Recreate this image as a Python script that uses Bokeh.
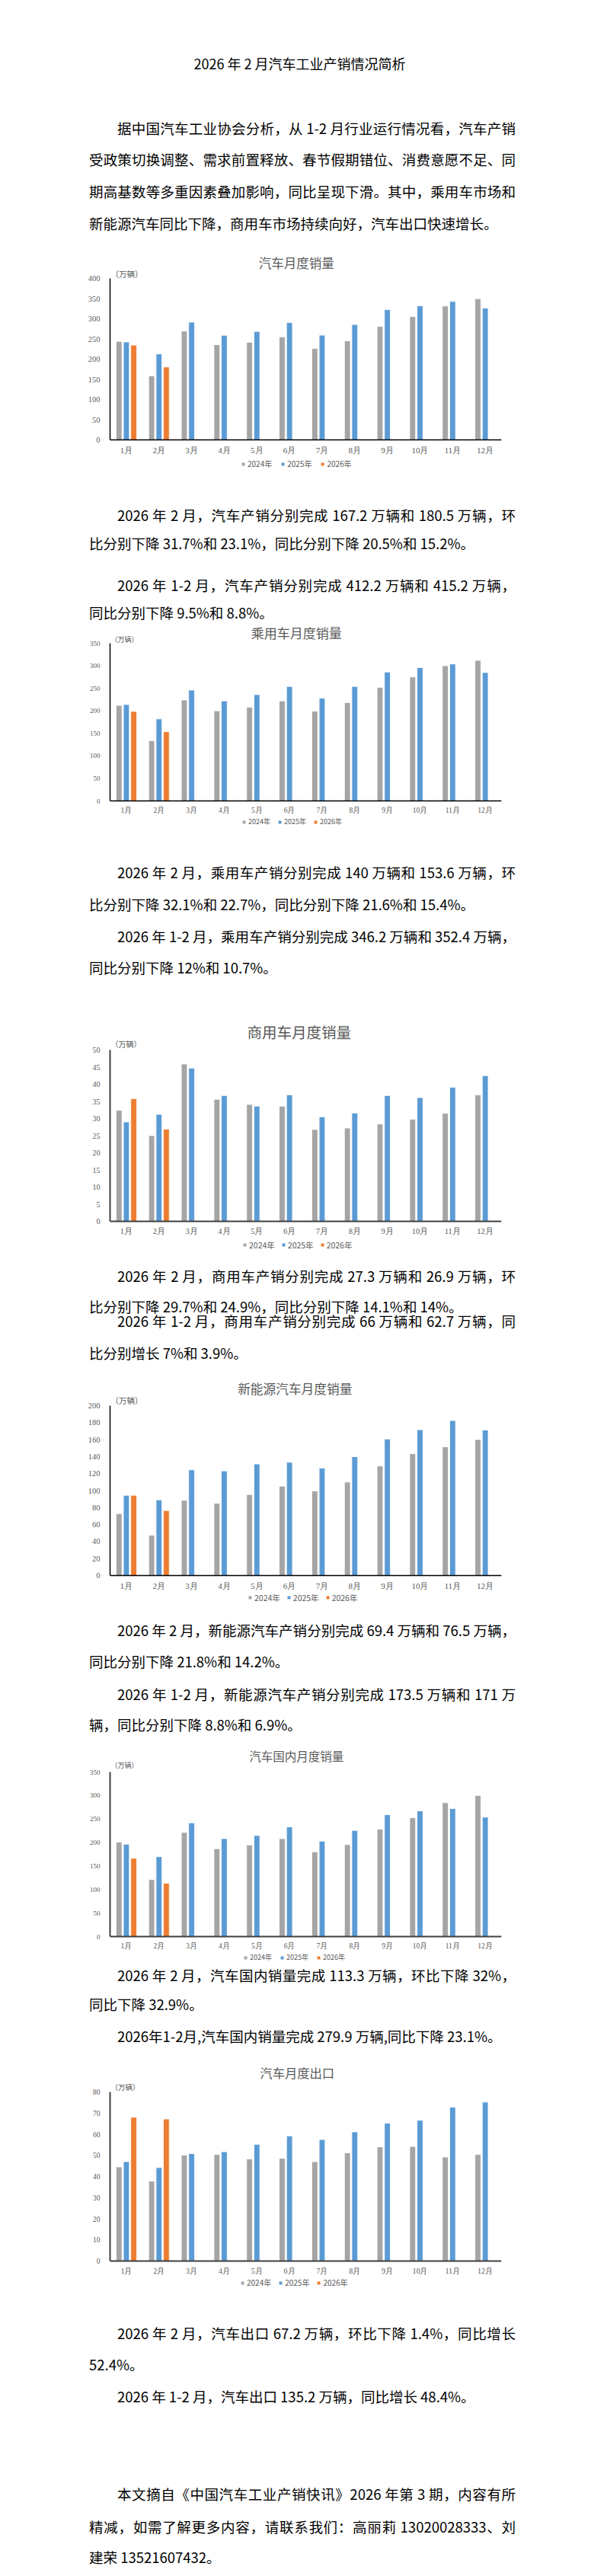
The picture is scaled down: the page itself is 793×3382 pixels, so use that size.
from bokeh.embed import file_html
from bokeh.layouts import column
from bokeh.models import (ColumnDataSource, Div, FixedTicker, Label, Legend, LegendItem,
                          LinearScale, Range1d)
from bokeh.plotting import figure
from bokeh.resources import INLINE

# ---------------- data (万辆) ----------------
months = ["1月", "2月", "3月", "4月", "5月", "6月", "7月", "8月", "9月", "10月", "11月", "12月"]
years = ["2024年", "2025年", "2026年"]

auto_2024 = [243.9, 158.4, 269.4, 235.9, 241.7, 255.2, 226.2, 245.3, 280.9, 305.3, 331.6, 349.5]
auto_2025 = [242.3, 212.9, 291.5, 259.0, 268.6, 290.4, 259.3, 285.7, 322.6, 332.2, 342.9, 326.5]
auto_2026 = [234.7, 180.5]

pv_2024 = [212.0, 133.5, 224.0, 200.0, 208.0, 222.0, 199.0, 218.0, 252.0, 275.0, 300.0, 312.0]
pv_2025 = [214.0, 182.0, 246.0, 222.0, 236.0, 254.0, 228.0, 254.0, 286.0, 296.0, 304.0, 285.0]
pv_2026 = [198.8, 153.6]

cv_2024 = [32.4, 25.0, 45.9, 35.6, 34.1, 33.6, 26.8, 27.2, 28.4, 29.8, 31.5, 36.9]
cv_2025 = [29.0, 31.2, 44.7, 36.7, 33.6, 36.9, 30.5, 31.6, 36.7, 36.1, 39.1, 42.5]
cv_2026 = [35.8, 26.9]

nev_2024 = [72.9, 47.4, 88.5, 84.9, 95.4, 105.2, 99.6, 110.0, 129.0, 143.5, 151.5, 160.1]
nev_2025 = [94.5, 89.1, 124.4, 123.2, 131.3, 133.3, 126.5, 139.9, 160.7, 171.7, 182.4, 171.4]
nev_2026 = [94.5, 76.5]

dom_2024 = [200.9, 121.0, 221.4, 186.8, 195.0, 208.4, 180.3, 195.5, 228.4, 252.7, 284.7, 300.0]
dom_2025 = [196.5, 170.0, 241.9, 208.4, 215.0, 233.3, 203.0, 225.7, 259.2, 267.3, 272.3, 254.0]
dom_2026 = [166.6, 113.3]

exp_2024 = [44.5, 37.8, 50.1, 50.4, 48.3, 48.6, 47.0, 51.2, 54.0, 54.2, 49.2, 50.4]
exp_2025 = [47.0, 44.2, 50.8, 51.7, 55.2, 59.2, 57.5, 61.1, 65.2, 66.6, 72.8, 75.2]
exp_2026 = [68.0, 67.2]

# ---------------- texts ----------------
page_title = "2026 年 2 月汽车工业产销情况简析"
intro_lines = [
    "据中国汽车工业协会分析，从 1-2 月行业运行情况看，汽车产销",
    "受政策切换调整、需求前置释放、春节假期错位、消费意愿不足、同",
    "期高基数等多重因素叠加影响，同比呈现下滑。其中，乘用车市场和",
    "新能源汽车同比下降，商用车市场持续向好，汽车出口快速增长。",
]
auto_lines = [
    "2026 年 2 月，汽车产销分别完成 167.2 万辆和 180.5 万辆，环",
    "比分别下降 31.7%和 23.1%，同比分别下降 20.5%和 15.2%。",
    "2026 年 1-2 月，汽车产销分别完成 412.2 万辆和 415.2 万辆，",
    "同比分别下降 9.5%和 8.8%。",
]
pv_lines = [
    "2026 年 2 月，乘用车产销分别完成 140 万辆和 153.6 万辆，环",
    "比分别下降 32.1%和 22.7%，同比分别下降 21.6%和 15.4%。",
    "2026 年 1-2 月，乘用车产销分别完成 346.2 万辆和 352.4 万辆，",
    "同比分别下降 12%和 10.7%。",
]
cv_lines = [
    "2026 年 2 月，商用车产销分别完成 27.3 万辆和 26.9 万辆，环",
    "比分别下降 29.7%和 24.9%，同比分别下降 14.1%和 14%。",
    "2026 年 1-2 月，商用车产销分别完成 66 万辆和 62.7 万辆，同",
    "比分别增长 7%和 3.9%。",
]
nev_lines = [
    "2026 年 2 月，新能源汽车产销分别完成 69.4 万辆和 76.5 万辆，",
    "同比分别下降 21.8%和 14.2%。",
    "2026 年 1-2 月，新能源汽车产销分别完成 173.5 万辆和 171 万",
    "辆，同比分别下降 8.8%和 6.9%。",
]
dom_lines = [
    "2026 年 2 月，汽车国内销量完成 113.3 万辆，环比下降 32%，",
    "同比下降 32.9%。",
    "2026年1-2月,汽车国内销量完成 279.9 万辆,同比下降 23.1%。",
]
exp_lines = [
    "2026 年 2 月，汽车出口 67.2 万辆，环比下降 1.4%，同比增长",
    "52.4%。",
    "2026 年 1-2 月，汽车出口 135.2 万辆，同比增长 48.4%。",
    "本文摘自《中国汽车工业产销快讯》2026 年第 3 期，内容有所",
    "精减，如需了解更多内容，请联系我们：高丽莉 13020028333、刘",
    "建荣 13521607432。",
]

GRAY, BLUE, ORANGE = "#A5A5A5", "#5B9BD5", "#ED7D31"
FONT = "Noto Sans CJK SC"
W = 777


def text_block(top, height, lines):
    # lines: (text, centre y on the page, kind)
    parts = []
    for text, cy, kind in lines:
        left, width, size = (149, "523px", 18.5) if kind.startswith("indent") else (112, "560px", 18.5)
        align = "justify" if kind.endswith("just") else "left"
        if not kind.endswith("just"):
            width = "max-content"
        if kind == "title":
            left, width, size, align = 0, f"{W}px", 18, "center"
        y = cy - top - 12
        parts.append(
            f'<div style="position:absolute;left:{left}px;top:{y}px;width:{width};'
            f'height:22px;line-height:22px;font-size:{size}px;text-align:{align};'
            f'text-align-last:{align};white-space:nowrap;">{text}</div>')
    html = (f'<div style="position:relative;width:{W}px;height:{height}px;'
            f'font-family:\'{FONT}\',sans-serif;color:#000;">' + "".join(parts) + "</div>")
    return Div(text=html, width=W, height=height, styles={"overflow": "visible"})


def bar_chart(title, v24, v25, v26, ymax, ystep, g):
    y0, h, zero, top = g["y0"], g["h"], g["zero"], g["top"]
    px = (zero - top) / ymax          # pixels per unit
    n = len(months)
    p = figure(width=W, height=h, title=None,
               x_range=Range1d(0, n),
               y_range=Range1d(-(y0 + h - zero) / px, (zero - y0) / px),
               output_backend="svg", toolbar_location=None,
               min_border_left=g["left"] - 8, min_border_right=W + 8 - g["right"],
               min_border_top=0, min_border_bottom=0)
    # page-pixel ranges for the chart's own texts
    p.extra_x_ranges = {"page": Range1d(g["left"], g["right"])}
    p.extra_x_scales = {"page": LinearScale()}
    p.extra_y_ranges = {"page": Range1d(y0 + h, y0)}
    p.extra_y_scales = {"page": LinearScale()}
    p.outline_line_color = None
    p.xgrid.visible = False
    p.ygrid.visible = False

    rs = []
    for vals, off, col in [(v24, -0.225, GRAY), (v25, 0.0, BLUE), (v26, 0.225, ORANGE)]:
        src = ColumnDataSource(dict(x=[i + 0.5 + off for i in range(len(vals))], v=vals))
        rs.append(p.vbar(x="x", top="v", width=0.18, source=src,
                         fill_color=col, line_color="white", line_width=0.8))

    for ax in (p.xaxis, p.yaxis):
        ax.axis_line_color = g["axis"]
        ax.axis_line_width = g["axis_w"]
        ax.major_tick_line_color = None
        ax.minor_tick_line_color = None
        ax.major_tick_out = 0
        ax.major_tick_in = 0
        ax.major_label_text_font = "Liberation Serif"
        ax.major_label_text_color = "#595959"
    centres = [i + 0.5 for i in range(n)]
    p.xaxis.ticker = FixedTicker(ticks=centres)
    p.xaxis.major_label_overrides = {c: m for c, m in zip(centres, months)}
    p.xaxis.fixed_location = 0
    p.yaxis.bounds = (0, ymax)
    p.yaxis.ticker = FixedTicker(ticks=list(range(0, ymax + 1, ystep)))
    p.yaxis.major_label_text_font_size = f"{g['tick']}px"
    p.yaxis.major_label_standoff = 13
    p.xaxis.major_label_text_font_size = f"{g['tick'] + 0.5}px"
    p.xaxis.major_label_standoff = 7

    tx, ty = g["title_at"]
    p.add_layout(Label(x=tx, y=ty, x_range_name="page", y_range_name="page",
                       text=title, text_align="center", text_baseline="middle",
                       text_font=FONT, text_font_size=f"{g['title_px']}px", text_color="#595959"))
    ux, uy = g["unit_at"]
    p.add_layout(Label(x=max(ux, g["left"] + 1), y=uy, x_range_name="page", y_range_name="page",
                       text="（万辆）", text_align="left", text_baseline="middle",
                       text_font=FONT, text_font_size=f"{g['tick']}px", text_color="#595959"))

    lx, ly = g["legend_at"]
    fs = g["legend_px"]
    legend = Legend(items=[LegendItem(label=y, renderers=[r]) for y, r in zip(years, rs)],
                    orientation="horizontal",
                    location=(lx - 3 - g["left"], y0 + h - ly - 0.72 * fs),
                    glyph_width=6, glyph_height=6, label_standoff=3,
                    spacing=int(g["pitch"] - 9 - 3.2 * fs), padding=0, margin=0,
                    border_line_color=None, background_fill_alpha=0,
                    label_text_font=FONT, label_text_font_size=f"{fs}px",
                    label_text_color="#595959")
    p.add_layout(legend)
    return p


geo = {
    "auto": dict(y0=320, h=297, left=152, right=673, top=363, zero=575, title_at=(400, 342),
                 title_px=16.5, unit_at=(148, 357), tick=10.5, legend_at=(327, 607), pitch=52.5,
                 legend_px=10, axis="black", axis_w=1.5),
    "pv": dict(y0=809, h=268, left=152, right=673, top=832, zero=1039, title_at=(400, 818),
               title_px=17, unit_at=(149, 827), tick=9, legend_at=(328, 1067), pitch=47,
               legend_px=9, axis="black", axis_w=1.5),
    "cv": dict(y0=1300, h=322, left=149, right=671, top=1356, zero=1581, title_at=(401, 1332),
               title_px=19.5, unit_at=(148, 1348), tick=10, legend_at=(326, 1612), pitch=51,
               legend_px=10.5, axis="#404040", axis_w=2),
    "nev": dict(y0=1768, h=307, left=151, right=674, top=1813, zero=2036, title_at=(398, 1790),
                title_px=16.7, unit_at=(148, 1806), tick=10.5, legend_at=(335, 2065), pitch=51.5,
                legend_px=10.5, axis="black", axis_w=1.5),
    "dom": dict(y0=2248, h=289, left=152, right=673, top=2284, zero=2500, title_at=(400, 2262),
                title_px=15.5, unit_at=(150, 2275), tick=9, legend_at=(330, 2528), pitch=48,
                legend_px=9, axis="#404040", axis_w=2),
    "exp": dict(y0=2645, h=310, left=143, right=666, top=2694, zero=2916, title_at=(393, 2668),
                title_px=16.3, unit_at=(141, 2687), tick=9.5, legend_at=(317, 2945), pitch=50.5,
                legend_px=10, axis="#404040", axis_w=2),
}

s0 = text_block(8, 312, [(page_title, 87, "title"),
                         (intro_lines[0], 172, "indent_just"), (intro_lines[1], 213, "just"),
                         (intro_lines[2], 255, "just"), (intro_lines[3], 297, "last")])
f1 = bar_chart("汽车月度销量", auto_2024, auto_2025, auto_2026, 400, 50, geo["auto"])
s1 = text_block(617, 192, [(auto_lines[0], 670, "indent_just"), (auto_lines[1], 707, "last"),
                           (auto_lines[2], 762, "indent_just"), (auto_lines[3], 798, "last")])
f2 = bar_chart("乘用车月度销量", pv_2024, pv_2025, pv_2026, 350, 50, geo["pv"])
s2 = text_block(1077, 223, [(pv_lines[0], 1129, "indent_just"), (pv_lines[1], 1171, "last"),
                            (pv_lines[2], 1213, "indent_just"), (pv_lines[3], 1254, "last")])
f3 = bar_chart("商用车月度销量", cv_2024, cv_2025, cv_2026, 50, 5, geo["cv"])
s3 = text_block(1622, 146, [(cv_lines[0], 1649, "indent_just"), (cv_lines[1], 1689, "last"),
                            (cv_lines[2], 1708, "indent_just"), (cv_lines[3], 1750, "last")])
f4 = bar_chart("新能源汽车月度销量", nev_2024, nev_2025, nev_2026, 200, 20, geo["nev"])
s4 = text_block(2075, 173, [(nev_lines[0], 2104, "indent_just"), (nev_lines[1], 2145, "last"),
                            (nev_lines[2], 2188, "indent_just"), (nev_lines[3], 2228, "last")])
f5 = bar_chart("汽车国内月度销量", dom_2024, dom_2025, dom_2026, 350, 50, geo["dom"])
s5 = text_block(2537, 108, [(dom_lines[0], 2547, "indent_just"), (dom_lines[1], 2585, "last"),
                            (dom_lines[2], 2627, "indent_last")])
f6 = bar_chart("汽车月度出口", exp_2024, exp_2025, exp_2026, 80, 10, geo["exp"])
s6 = text_block(2955, 419, [(exp_lines[0], 3007, "indent_just"), (exp_lines[1], 3048, "last"),
                            (exp_lines[2], 3090, "indent_last"), (exp_lines[3], 3218, "indent_just"),
                            (exp_lines[4], 3261, "just"), (exp_lines[5], 3301, "last")])

page = column(s0, f1, s1, f2, s2, f3, s3, f4, s4, f5, s5, f6, s6, spacing=0)

with open("out.html", "w") as fh:
    fh.write(file_html(page, INLINE, title="2026 年 2 月汽车工业产销情况简析"))
